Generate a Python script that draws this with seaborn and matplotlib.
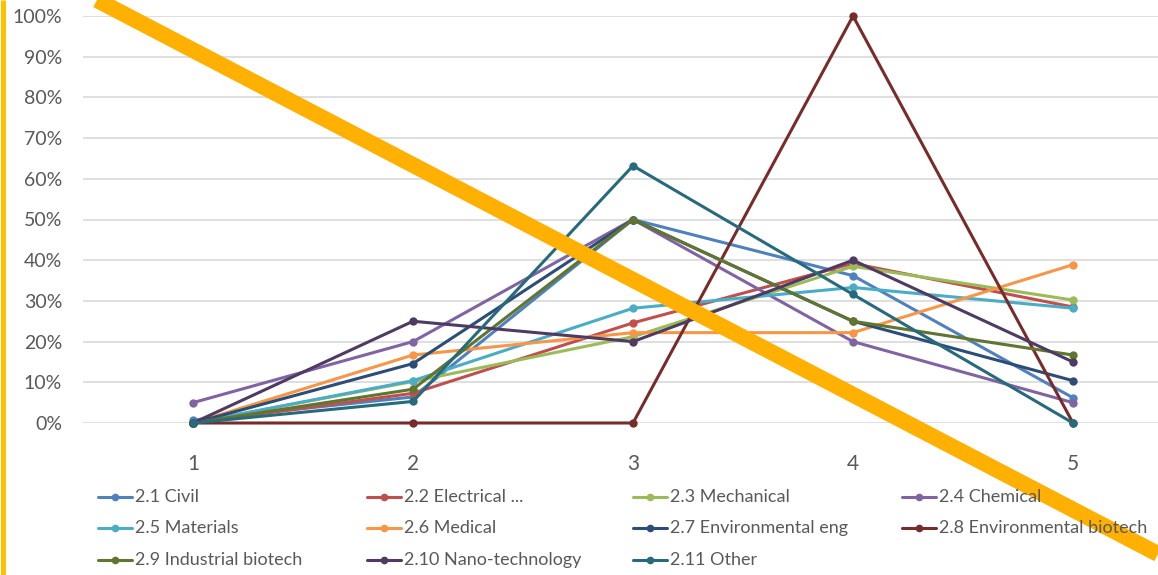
import numpy as np
import pandas as pd
import seaborn as sns
import matplotlib.pyplot as plt
from matplotlib.lines import Line2D

# =========================
# DATA
# =========================
steps = [1, 2, 3, 4, 5]

series_names = [
    "2.1 Civil", "2.2 Electrical ...", "2.3 Mechanical", "2.4 Chemical",
    "2.5 Materials", "2.6 Medical", "2.7 Environmental eng", "2.8 Environmental biotech",
    "2.9 Industrial biotech", "2.10 Nano-technology", "2.11 Other",
]

civil        = [0.007, 0.064, 0.500, 0.362, 0.062]
electrical   = [0.0, 0.073, 0.246, 0.392, 0.285]
mechanical   = [0.0, 0.102, 0.212, 0.385, 0.302]
chemical     = [0.05, 0.20, 0.50, 0.20, 0.05]
materials    = [0.0, 0.104, 0.282, 0.333, 0.282]
medical      = [0.0, 0.167, 0.222, 0.222, 0.389]
env_eng      = [0.0, 0.146, 0.500, 0.250, 0.104]
env_biotech  = [0.0, 0.0, 0.0, 1.0, 0.0]
ind_biotech  = [0.0, 0.083, 0.500, 0.250, 0.167]
nano         = [0.0, 0.25, 0.20, 0.40, 0.15]
other        = [0.0, 0.053, 0.632, 0.316, 0.0]

all_values = [civil, electrical, mechanical, chemical, materials, medical,
              env_eng, env_biotech, ind_biotech, nano, other]

colors = ["#4F81BD", "#C0504D", "#9BBB59", "#8064A2", "#4BACC6", "#F79646",
          "#2C4D75", "#772C2A", "#5F7530", "#4D3B62", "#276A7C"]

rows = []
for name, vals in zip(series_names, all_values):
    for s, v in zip(steps, vals):
        rows.append({"step": s, "share": v, "series": name})
df = pd.DataFrame(rows)

# =========================
# PLOT
# =========================
sns.set_style("white")
plt.rcParams['font.family'] = ['Lato', 'DejaVu Sans']

W, H = 1158, 575
fig = plt.figure(figsize=(W / 100, H / 100), dpi=100)
ax = fig.add_axes([83 / W, (H - 423) / H, 1100 / W, 407 / H])

sns.lineplot(data=df, x="step", y="share", hue="series", hue_order=series_names,
             palette=colors, marker="o", markersize=6, markeredgewidth=0,
             linewidth=2.2, ax=ax, legend=False, clip_on=False)

ax.set_xlim(0.5, 5.5)
ax.set_ylim(0, 1)
ax.set_xticks(steps)
ax.set_yticks(np.arange(0, 1.01, 0.1))
ax.set_yticklabels([f"{int(round(t * 100))}%" for t in np.arange(0, 1.01, 0.1)])
ax.yaxis.grid(True, color="#D9D9D9", linewidth=1.2)
ax.set_axisbelow(True)
ax.tick_params(axis="y", length=0, pad=15, labelsize=14, labelcolor="#595959")
ax.tick_params(axis="x", length=0, pad=22, labelsize=15, labelcolor="#595959")
ax.set_xlabel("")
ax.set_ylabel("")
for sp in ax.spines.values():
    sp.set_visible(False)

# legend, laid out row by row like the Excel one
col_x = [98, 367, 633, 902]
row_y = [497, 528, 560]
for i, (name, c) in enumerate(zip(series_names, colors)):
    x0 = col_x[i % 4]
    y0 = 1 - row_y[i // 4] / H
    fig.add_artist(Line2D([x0 / W, (x0 + 34) / W], [y0, y0], color=c, linewidth=2.2))
    fig.add_artist(Line2D([(x0 + 17) / W], [y0], color=c, marker="o",
                          markersize=5.5, markeredgewidth=0))
    fig.text((x0 + 37) / W, y0, name, fontsize=13, color="#595959",
             ha="left", va="center")

# orange overlay marks
fig.add_artist(Line2D([97 / W, 1.0], [1.0, 1 - 554 / H], color="#FFB000",
                      linewidth=11.5, solid_capstyle="butt"))
fig.add_artist(Line2D([2.5 / W, 2.5 / W], [0, 1], color="#FFC000",
                      linewidth=3.6, solid_capstyle="butt"))

fig.savefig("out.png", dpi=100)
